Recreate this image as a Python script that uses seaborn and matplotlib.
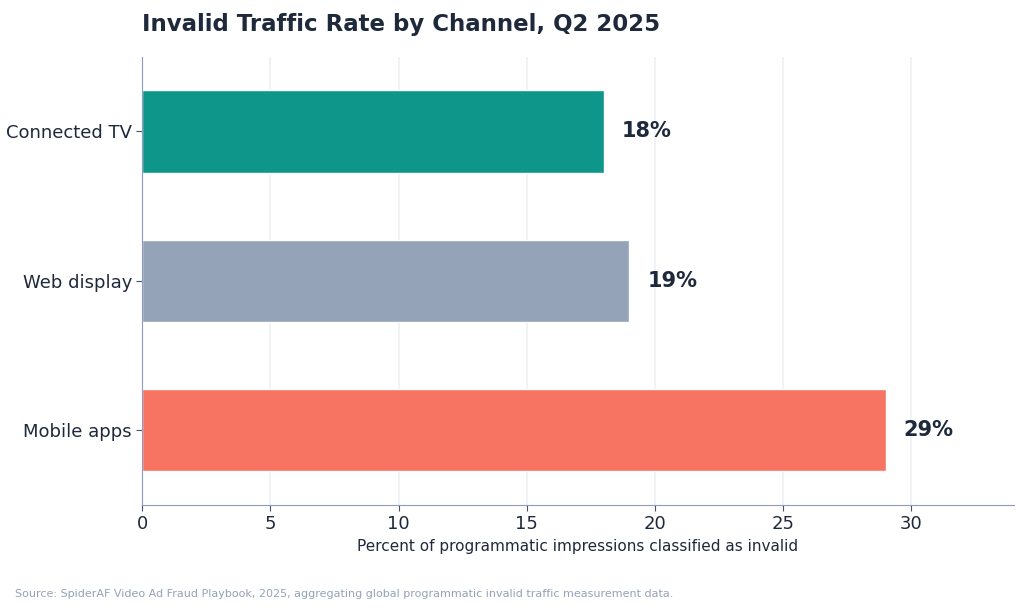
import matplotlib
matplotlib.use("Agg")
import matplotlib.pyplot as plt
import seaborn as sns
import pandas as pd

channels = ["Connected TV", "Web display", "Mobile apps"]
rates = [18, 19, 29]
colors = ["#0f968a", "#94a3b8", "#f87462"]

df = pd.DataFrame({"channel": channels, "rate": rates})

sns.set_style("white")
plt.rcParams['font.family'] = ['DejaVu Sans']
dark = "#1e293b"

fig = plt.figure(figsize=(10.24, 6.1), dpi=100)
ax = fig.add_axes([0.139, 0.172, 0.851, 0.735])
sns.barplot(data=df, x="rate", y="channel", hue="channel", palette=colors,
            width=0.55, legend=False, ax=ax, saturation=1)

for i, v in enumerate(rates):
    ax.text(v + 0.7, i, f"{v}%", va="center", ha="left", fontsize=15,
            fontweight="bold", color=dark)

ax.set_xlim(0, 34)
ax.set_xticks([0, 5, 10, 15, 20, 25, 30])
ax.grid(axis="x", color="#eef1f5", linewidth=1.2)
ax.set_axisbelow(True)
for s in ["top", "right"]:
    ax.spines[s].set_visible(False)
for s in ["left", "bottom"]:
    ax.spines[s].set_color("#8e9bbf")
ax.tick_params(axis="both", colors=dark, labelsize=13, length=4, left=True, bottom=True)
ax.tick_params(axis="both", color="#475569")
ax.set_ylabel("")
ax.set_xlabel("Percent of programmatic impressions classified as invalid",
              fontsize=11, color=dark)
fig.text(0.139, 0.95, "Invalid Traffic Rate by Channel, Q2 2025", fontsize=16.5,
         fontweight="bold", color=dark, ha="left")
fig.text(0.015, 0.022, "Source: SpiderAF Video Ad Fraud Playbook, 2025, aggregating global programmatic invalid traffic measurement data.",
         fontsize=8, color="#94a3b8", ha="left")

fig.savefig("out.png", dpi=100)
